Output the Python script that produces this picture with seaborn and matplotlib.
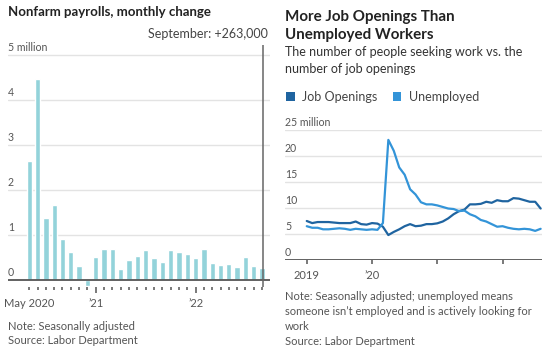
import numpy as np
import pandas as pd
import matplotlib
matplotlib.use("Agg")
import matplotlib.pyplot as plt
import matplotlib.transforms as mtransforms
from matplotlib.patches import Patch
import seaborn as sns

# ---------------- data ----------------
payroll_months = (
    ["May 2020", "Jun 2020", "Jul 2020", "Aug 2020", "Sep 2020", "Oct 2020", "Nov 2020", "Dec 2020"]
    + [f"{m} 2021" for m in ["Jan", "Feb", "Mar", "Apr", "May", "Jun", "Jul", "Aug", "Sep", "Oct", "Nov", "Dec"]]
    + [f"{m} 2022" for m in ["Jan", "Feb", "Mar", "Apr", "May", "Jun", "Jul", "Aug", "Sep"]]
)
payroll_change = [2.65, 4.47, 1.37, 1.66, 0.90, 0.63, 0.32, -0.13,
                  0.50, 0.69, 0.69, 0.25, 0.44, 0.53, 0.67, 0.49, 0.39, 0.67, 0.63, 0.57,
                  0.49, 0.68, 0.385, 0.34, 0.36, 0.28, 0.51, 0.30, 0.263]
payroll_tick_idx = [0, 8, 20]
payroll_tick_labels = ["May 2020", "\u201921", "\u201922"]
payroll_yticks = [0, 1, 2, 3, 4, 5]
payroll_ylabels = ["0", "1", "2", "3", "4", "5 million"]

job_openings = [7.5, 7.1, 7.3, 7.3, 7.3, 7.2, 7.1, 7.1, 7.1, 7.4, 6.9, 6.8,
                7.1, 7.0, 6.4, 4.8, 5.4, 5.9, 6.5, 6.9, 6.5, 6.6, 6.9, 6.9,
                7.05, 7.4, 8.0, 8.8, 9.4, 9.7, 10.7, 10.7, 10.8, 11.2, 11.0, 11.5,
                11.3, 11.3, 11.9, 11.8, 11.5, 11.2, 11.2, 9.9]
unemployed = [6.5, 6.2, 6.2, 5.9, 5.9, 6.0, 6.1, 6.0, 5.8, 6.0, 5.9, 5.8,
              5.9, 5.8, 7.1, 23.1, 21.0, 17.8, 16.4, 13.6, 12.6, 11.1, 10.7, 10.7,
              10.5, 10.2, 9.9, 9.8, 9.4, 9.5, 8.8, 8.4, 7.7, 7.4, 6.9, 6.4,
              6.5, 6.2, 6.0, 5.9, 6.0, 5.9, 5.6, 6.0]
month_index = list(range(len(job_openings)))   # Jan 2019 .. Aug 2022
jobs_tick_idx = [0, 12, 24, 36]
jobs_tick_labels = ["2019", "\u201920", "", ""]
jobs_yticks = [0, 5, 10, 15, 20, 25]
jobs_ylabels = ["0", "5", "10", "15", "20", "25 million"]
series_names = ["Job Openings", "Unemployed"]

# ---------------- style ----------------
sns.set_style("white")
plt.rcParams["font.family"] = ["Lato", "DejaVu Sans"]

BAR = "#93d3da"
DARK = "#1f64a0"
LIGHT = "#3394d8"
GRID = "#e3e3e3"
AXIS = "#555555"
TXT = "#555555"
TICKFS = 7.6
NOTEFS = 8.0

fig = plt.figure(figsize=(5.5, 3.56), dpi=100)
W, H = 550.0, 356.0

def frac_box(x0, y0, x1, y1):
    return [x0 / W, 1 - y1 / H, (x1 - x0) / W, (y1 - y0) / H]

# ---------------- left chart ----------------
axL = fig.add_axes(frac_box(8, 45, 270, 286.7))
dfp = pd.DataFrame({"month": payroll_months, "change": payroll_change})
sns.barplot(data=dfp, x="month", y="change", color=BAR, saturation=1, width=0.64, ax=axL)
axL.set_xlim(-2.55, 28.95)
axL.set_ylim(-0.15, 5.22)
for s in axL.spines.values():
    s.set_visible(False)
for v in payroll_yticks[1:]:
    axL.axhline(v, color=GRID, lw=1, zorder=0)
axL.axhline(0, color=AXIS, lw=1.3, zorder=3)
axL.axvline(len(payroll_change) - 1 + 0.12, color="#666666", lw=1.1, zorder=4)
axL.set_yticks([])
axL.set_xlabel("")
axL.set_ylabel("")
axL.set_xticks(payroll_tick_idx)
axL.set_xticklabels(payroll_tick_labels)
axL.set_xticks([i for i in range(len(payroll_change)) if i not in payroll_tick_idx], minor=True)
axL.tick_params(axis="x", which="both", bottom=True, direction="out", color=AXIS, width=1.1,
                labelsize=TICKFS + 0.4, labelcolor=TXT, pad=4)
axL.tick_params(axis="x", which="major", length=4)
axL.tick_params(axis="x", which="minor", length=2.2)
axL.xaxis.get_major_ticks()[0].tick1line.set_markersize(2.2)

tL = mtransforms.blended_transform_factory(axL.transAxes, axL.transData)
for v, lab in zip(payroll_yticks, payroll_ylabels):
    axL.text(0, v, lab, transform=mtransforms.offset_copy(tL, fig=fig, x=0, y=2, units="dots"),
             ha="left", va="bottom", fontsize=TICKFS, color=TXT)

fig.text(8 / W, 1 - 12 / H, "Nonfarm payrolls, monthly change", ha="left", va="center",
         fontsize=9.5, fontweight="bold", color="#222222")
fig.text(268 / W, 1 - 34 / H, "September: +263,000", ha="right", va="center",
         fontsize=9, color="#444444")
fig.text(8 / W, 1 - 326 / H, "Note: Seasonally adjusted", ha="left", va="center", fontsize=NOTEFS, color=TXT)
fig.text(8 / W, 1 - 341 / H, "Source: Labor Department", ha="left", va="center", fontsize=NOTEFS, color=TXT)

# ---------------- right chart ----------------
axR = fig.add_axes(frac_box(285, 130, 542, 260))
dfl = pd.DataFrame({
    "month": month_index * 2,
    "value": job_openings + unemployed,
    "series": [series_names[0]] * len(job_openings) + [series_names[1]] * len(unemployed),
})
sns.lineplot(data=dfl, x="month", y="value", hue="series", palette=[DARK, LIGHT],
             lw=1.6, ax=axR, legend=False, zorder=5)
axR.set_xlim(-4, 43.25)
axR.set_ylim(0, 25)
for s in axR.spines.values():
    s.set_visible(False)
for v in jobs_yticks[1:]:
    axR.axhline(v, color=GRID, lw=1, zorder=0)
axR.axhline(0, color=AXIS, lw=1.3, zorder=3)
axR.set_yticks([])
axR.set_xlabel("")
axR.set_ylabel("")
axR.set_xticks(jobs_tick_idx)
axR.set_xticklabels(jobs_tick_labels)
axR.tick_params(axis="x", bottom=True, direction="out", length=3, width=1.1, color=AXIS,
                labelsize=TICKFS + 0.4, labelcolor=TXT, pad=4)
tR = mtransforms.blended_transform_factory(axR.transAxes, axR.transData)
for v, lab in zip(jobs_yticks, jobs_ylabels):
    axR.text(0, v, lab, transform=mtransforms.offset_copy(tR, fig=fig, x=0, y=2, units="dots"),
             ha="left", va="bottom", fontsize=TICKFS, color=TXT)

fig.text(285 / W, 1 - 17 / H, "More Job Openings Than", ha="left", va="center",
         fontsize=10.9, fontweight="bold", color="#222222")
fig.text(285 / W, 1 - 35 / H, "Unemployed Workers", ha="left", va="center",
         fontsize=10.9, fontweight="bold", color="#222222")
fig.text(285 / W, 1 - 52 / H, "The number of people seeking work vs. the", ha="left", va="center",
         fontsize=9, color="#333333")
fig.text(285 / W, 1 - 69 / H, "number of job openings", ha="left", va="center",
         fontsize=9, color="#333333")

handles = [Patch(facecolor=DARK, edgecolor="none"), Patch(facecolor=LIGHT, edgecolor="none")]
fig.legend(handles, series_names, loc="center left", bbox_to_anchor=(281 / W, 1 - 97 / H),
           ncol=2, frameon=False, fontsize=9, handlelength=0.7, handleheight=0.7,
           handletextpad=0.6, columnspacing=1.2, labelcolor="#444444", borderaxespad=0)

notes = ["Note: Seasonally adjusted; unemployed means",
         "someone isn\u2019t employed and is actively looking for",
         "work",
         "Source: Labor Department"]
for i, line in enumerate(notes):
    fig.text(285 / W, 1 - (297 + 14.7 * i) / H, line, ha="left", va="center", fontsize=NOTEFS, color=TXT)

fig.savefig("out.png", dpi=100)
